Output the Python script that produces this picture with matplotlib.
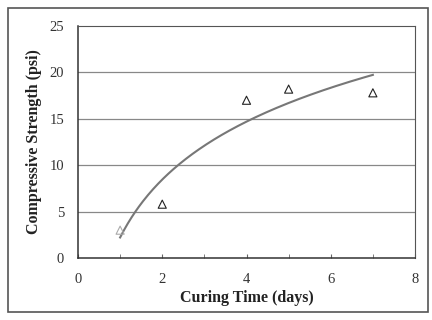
import numpy as np
import matplotlib
matplotlib.use('Agg')
import matplotlib.pyplot as plt
from matplotlib.patches import Rectangle

plt.rcParams['font.family'] = ['Liberation Serif', 'DejaVu Serif']

# ===== data =====
curing_days = [1, 2, 4, 5, 7]
strength_psi = [3.0, 5.8, 17.0, 18.2, 17.8]
x_ticks = [0, 2, 4, 6, 8]
y_ticks = [0, 5, 10, 15, 20, 25]

# logarithmic trendline fitted to the measurements
a, b = np.polyfit(np.log(curing_days), strength_psi, 1)
x_fit = np.linspace(min(curing_days), max(curing_days), 200)
y_fit = a * np.log(x_fit) + b

fig = plt.figure(figsize=(4.32, 3.2), dpi=100)
fig.patch.set_facecolor('white')
# outer frame of the chart area
fig.patches.append(Rectangle((8 / 432, 8 / 320), 420 / 432, 304 / 320,
                             transform=fig.transFigure, fill=False,
                             edgecolor='#555555', linewidth=1.2))

ax = fig.add_axes([78 / 432, 62 / 320, 337 / 432, 232 / 320])
for yv in y_ticks[1:-1]:
    ax.axhline(yv, color='#888888', linewidth=0.9, zorder=1)

ax.plot(x_fit, y_fit, color='#777777', linewidth=1.5, zorder=2)
ax.scatter(curing_days[1:], strength_psi[1:], marker='^', s=34,
           facecolors='none', edgecolors='#222222', linewidths=0.8, zorder=3)
ax.scatter(curing_days[:1], strength_psi[:1], marker='^', s=34,
           facecolors='none', edgecolors='#aaaaaa', linewidths=0.8, zorder=3)

ax.set_xlim(0, 8)
ax.set_ylim(0, 25)
ax.set_xticks(x_ticks)
ax.set_xticks([1, 3, 5, 7], minor=True)
ax.set_yticks(y_ticks)
ax.tick_params(axis='x', which='both', direction='in', length=3,
               pad=11, labelsize=10.5, labelcolor='#333333', color='#666666')
ax.tick_params(axis='y', length=0, pad=10, labelsize=10.5, labelcolor='#333333')
for side in ['top', 'right']:
    ax.spines[side].set_color('#555555')
for side in ['left', 'bottom']:
    ax.spines[side].set_color('#333333')
    ax.spines[side].set_linewidth(1.1)

ax.set_xlabel('Curing Time (days)', fontsize=11.5, fontweight='bold',
              color='#222222', labelpad=3)
ax.set_ylabel('Compressive Strength (psi)', fontsize=11.5, fontweight='bold',
              color='#222222', labelpad=5)

fig.savefig('out.png', dpi=100)
